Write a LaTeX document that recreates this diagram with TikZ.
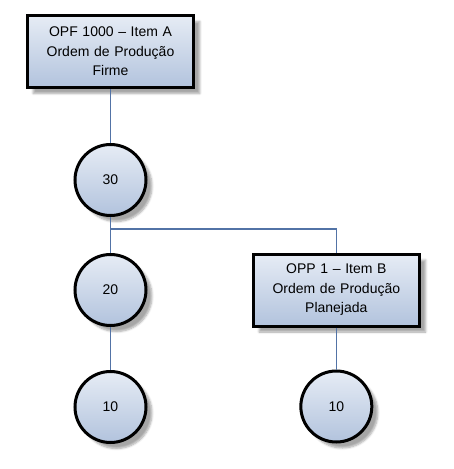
\documentclass[tikz,border=0pt]{standalone}
\usepackage{fontspec}
\setmainfont{Liberation Sans}
\usepackage{xcolor}
\usepackage{tikz}
\usetikzlibrary{positioning,shadows.blur}

\definecolor{fillTop}{HTML}{E6ECF5}
\definecolor{fillBottom}{HTML}{B2C3DD}
\definecolor{linkBlue}{HTML}{5273A6}

\begin{document}
\begin{tikzpicture}[
    x=1pt, y=-1pt,
    order/.style={
        rectangle,
        draw=black,
        line width=3pt,
        top color=fillTop,
        bottom color=fillBottom,
        text width=160pt,
        align=center,
        minimum width=164pt,
        minimum height=72pt,
        font=\fontsize{14}{19.5}\selectfont,
        blur shadow={shadow xshift=6pt, shadow yshift=-6pt, shadow blur steps=6, shadow opacity=35}
    },
    level/.style={
        circle,
        draw=black,
        line width=3pt,
        top color=fillTop,
        bottom color=fillBottom,
        minimum size=71pt,
        font=\fontsize{14}{19.5}\selectfont,
        blur shadow={shadow xshift=6pt, shadow yshift=-6pt, shadow blur steps=6, shadow opacity=35}
    },
    link/.style={draw=linkBlue, line width=1.6pt}
]
\useasboundingbox (0,0) rectangle (454,469);

% Item A branch
\node[order] (opfA) at (110.5,51.5) {OPF 1000 – Item A\\Ordem de Produção\\Firme};
\node[level, below=54pt of opfA] (op30) {30};
\node[level, below=36pt of op30] (op20) {20};
\node[level, below=43pt of op20] (op10A) {10};

% Item B branch
\node[order, right=104pt of op20] (oppB) {OPP 1 – Item B\\Ordem de Produção\\Planejada};
\node[level, below=42pt of oppB] (op10B) {10};

% split point under 30
\coordinate[below=12pt of op30] (split);

% connectors
\draw[link] (opfA) -- (op30);
\draw[link] (op30) -- (op20);
\draw[link] (split) -| (oppB);
\draw[link] (op20) -- (op10A);
\draw[link] (oppB) -- (op10B);

\end{tikzpicture}
\end{document}
